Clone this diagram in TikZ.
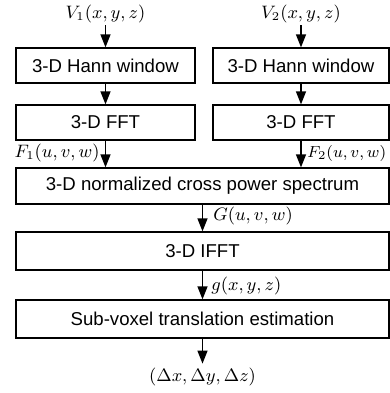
\documentclass[tikz,border=0pt]{standalone}
\usepackage[no-math]{fontspec}
\newfontfamily\boxfont{Liberation Sans}
\usetikzlibrary{arrows.meta}
\begin{document}
\begin{tikzpicture}[x=0.5pt,y=-0.5pt,
  blk/.style={draw, line width=0.6pt, rectangle, inner sep=0pt,
    font=\boxfont\fontsize{9.3}{11}\selectfont},
  flow/.style={line width=0.6pt, -{Triangle[length=6.5pt,width=5pt]}},
  lab/.style={inner sep=1pt, font=\fontsize{9}{11}\selectfont}]
\useasboundingbox (0,0) rectangle (390,393);

% processing blocks
\node[blk, minimum width=89.5pt, minimum height=17.5pt] (hannL) at (105.5,65.5) {3-D Hann window};
\node[blk, minimum width=89.5pt, minimum height=17.5pt] (fftL)  at (105.5,122.5) {3-D FFT};
\node[blk, minimum width=88pt,   minimum height=17.5pt] (hannR) at (301,65.5) {3-D Hann window};
\node[blk, minimum width=88pt,   minimum height=17.5pt] (fftR)  at (301,122.5) {3-D FFT};
\node[blk, minimum width=186.5pt, minimum height=18pt] (cps)  at (202.5,186) {3-D normalized cross power spectrum};
\node[blk, minimum width=186.5pt, minimum height=19pt] (ifft) at (202.5,251) {3-D IFFT};
\node[blk, minimum width=186.5pt, minimum height=19pt] (sub)  at (202.5,319) {Sub-voxel translation estimation};

% inputs and output
\node[lab] (v1) at (105.5,14) {$V_1(x,y,z)$};
\node[lab] (v2) at (301,14) {$V_2(x,y,z)$};
\node[lab, inner sep=2pt] (out) at (202.5,377) {$(\Delta x,\Delta y,\Delta z)$};

% connectors
\draw[flow] (v1) -- (hannL);
\draw[flow] (v2) -- (hannR);
\draw[flow] (hannL) -- (fftL);
\draw[flow] (hannR) -- (fftR);
\draw[flow] (fftL.south) -- (fftL.south |- cps.north);
\draw[flow] (fftR.south) -- (fftR.south |- cps.north);
\draw[flow] (cps) -- (ifft);
\draw[flow] (ifft) -- (sub);
\draw[flow] (sub) -- (out);

% signal labels
\node[lab, anchor=east] (f1) at (102,153) {$F_1(u,v,w)$};
\node[lab, anchor=west, inner sep=0pt, font=\fontsize{8.2}{10}\selectfont] (f2) at (307,153) {$F_2(u,v,w)$};
\node[lab, anchor=west] (gf) at (211,216) {$G(u,v,w)$};
\node[lab, anchor=west] (gs) at (209,286) {$g(x,y,z)$};
\end{tikzpicture}
\end{document}
